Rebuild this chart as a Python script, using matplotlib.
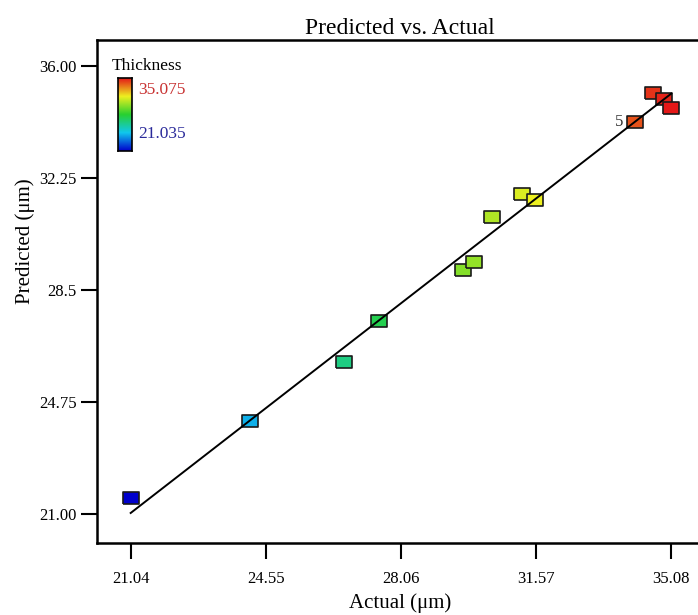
# plot.py
# Predicted vs. Actual scatter with a small colour key, saved as out.png.

import numpy as np
import matplotlib
matplotlib.use("Agg")
import matplotlib.pyplot as plt
from matplotlib.colors import LinearSegmentedColormap, Normalize

plt.rcParams["font.family"] = ["Liberation Serif", "DejaVu Serif"]

# data
actual = [21.04, 24.13, 26.57, 27.48, 29.66, 29.95, 30.42, 31.20, 31.53, 34.13, 34.60, 34.88, 35.07]
predicted = [21.54, 24.11, 26.09, 27.46, 29.17, 29.44, 30.94, 31.71, 31.51, 34.12, 35.09, 34.89, 34.59]
x_ticks = [21.04, 24.55, 28.06, 31.57, 35.08]
y_ticks = [21.00, 24.75, 28.5, 32.25, 36.00]
y_tick_labels = ["21.00", "24.75", "28.5", "32.25", "36.00"]
c_min, c_max = 21.035, 35.075
point_label = "5"
point_label_idx = 9

cmap = LinearSegmentedColormap.from_list(
    "de", ["#0000cc", "#10c8ee", "#28d030", "#eef020", "#e41818"])
norm = Normalize(c_min, c_max)

fig = plt.figure(figsize=(6.98, 6.15), dpi=100)
ax = fig.add_axes([97 / 698, 72 / 615, 606 / 698, 503 / 615])

rect = [(-1, -0.72), (1, -0.72), (1, 0.72), (-1, 0.72), (-1, -0.72)]
ax.scatter(actual, predicted, c=actual, cmap=cmap, norm=norm, marker=rect,
           s=11.5 ** 2, edgecolors="#1a1a1a", linewidths=1.2, zorder=2)
ax.plot([c_min, c_max], [c_min, c_max], color="black", lw=1.4, zorder=3)

ax.annotate(point_label, (actual[point_label_idx], predicted[point_label_idx]),
            xytext=(-8, 0), textcoords="offset points", ha="right", va="center",
            fontsize=12, color="#333333")

ax.set_xlim(20.16, 35.9)
ax.set_ylim(20.03, 36.87)
ax.set_xticks(x_ticks)
ax.set_xticklabels([f"{v:.2f}" for v in x_ticks])
ax.set_yticks(y_ticks)
ax.set_yticklabels(y_tick_labels)
ax.tick_params(axis="both", direction="out", length=11.5, width=1.5,
               labelsize=12, pad=3)
ax.tick_params(axis="x", pad=9)
for side in ["left", "bottom", "top"]:
    ax.spines[side].set_linewidth(1.8)
ax.spines["right"].set_visible(False)

ax.set_title("Predicted vs. Actual", fontsize=17, pad=4)
ax.set_xlabel("Actual (\u03bcm)", fontsize=15, labelpad=4)
ax.set_ylabel("Predicted (\u03bcm)", fontsize=15)
ax.yaxis.set_label_coords(-0.102, 0.60)

# colour key in the top-left corner
cax = fig.add_axes([118 / 698, (615 - 151) / 615, 14 / 698, 73 / 615])
grad = np.linspace(1, 0, 256).reshape(-1, 1)
cax.imshow(grad, aspect="auto", cmap=cmap, extent=[0, 1, 0, 1])
cax.set_xticks([])
cax.set_yticks([])
for sp in cax.spines.values():
    sp.set_linewidth(1.2)
fig.text(112 / 698, 1 - 66 / 615, "Thickness", fontsize=12.5, va="center")
fig.text(138 / 698, 1 - 90 / 615, f"{c_max:.3f}", fontsize=12.5, va="center",
         color="#c83232")
fig.text(138 / 698, 1 - 134 / 615, f"{c_min:.3f}", fontsize=12.5, va="center",
         color="#2a2a9a")

fig.savefig("out.png", dpi=100)
